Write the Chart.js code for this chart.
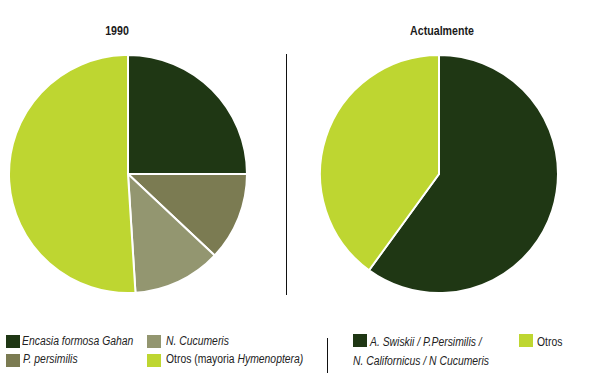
<!DOCTYPE html>
<html>
<head>
<meta charset="utf-8">
<script src="https://cdn.jsdelivr.net/npm/chart.js@4/dist/chart.umd.min.js"></script>
<style>
  html, body { margin: 0; padding: 0; background: #ffffff; }
  #wrap { position: relative; width: 600px; height: 389px; overflow: hidden; background: #fff;
          font-family: "Liberation Sans", Arial, sans-serif; color: #1a1a1a; }
  .cv { position: absolute; width: 240px; height: 240px; }
  .title { position: absolute; font-weight: bold; font-size: 12.5px; line-height: 14px; white-space: nowrap;
           transform: translateX(-50%) scaleX(0.85); }
  .vline { position: absolute; width: 1px; background: #111; }
  .sw { position: absolute; width: 14px; height: 13px; }
  .lt { position: absolute; font-size: 12.5px; line-height: 14px; white-space: nowrap;
        transform: scaleX(0.83); transform-origin: 0 50%; color: #222; }
  i { font-style: italic; }
</style>
</head>
<body>
<div id="wrap">
  <div class="title" style="left:117px; top:24px;">1990</div>
  <div class="title" style="left:441.5px; top:24px;">Actualmente</div>
  <div class="cv" style="left:8px; top:54px;"><canvas id="c1" width="240" height="240"></canvas></div>
  <div class="cv" style="left:319px; top:54px;"><canvas id="c2" width="240" height="240"></canvas></div>
  <div class="vline" style="left:286px; top:54px; height:241px;"></div>
  <div class="vline" style="left:327px; top:338px; height:35px;"></div>
  <div id="legend"></div>
</div>
<script>
// ---- data ----
const categories1990 = ['Encasia formosa Gahan', 'P. persimilis', 'N. Cucumeris', 'Otros (mayoria Hymenoptera)'];
const values1990 = [25, 12, 12, 51];
const colors1990 = ['#1f3714', '#7b7b52', '#939670', '#bed631'];

const categoriesNow = ['A. Swiskii / P.Persimilis / N. Californicus / N Cucumeris', 'Otros'];
const valuesNow = [60, 40];
const colorsNow = ['#1f3714', '#bed631'];

// legend label lines (mixed italics as in the original)
const legend1990Lines = [
  ['<i>Encasia formosa Gahan</i>'],
  ['<i>P. persimilis</i>'],
  ['<i>N. Cucumeris</i>'],
  ['Otros (mayoria <i>Hymenoptera)</i>']
];
const legendNowLines = [
  ['<i>A. Swiskii / P.Persimilis /</i>', '<i>N. Californicus / N Cucumeris</i>'],
  ['Otros']
];

function makePie(id, labels, values, colors) {
  new Chart(document.getElementById(id), {
    type: 'pie',
    data: {
      labels: labels,
      datasets: [{
        data: values,
        backgroundColor: colors,
        borderColor: '#ffffff',
        borderWidth: 2
      }]
    },
    options: {
      responsive: false,
      animation: false,
      layout: { padding: 0 },
      plugins: { legend: { display: false }, tooltip: { enabled: false }, title: { display: false } }
    }
  });
}
makePie('c1', categories1990, values1990, colors1990);
makePie('c2', categoriesNow, valuesNow, colorsNow);

// ---- legend (HTML, real text) ----
// slot: [swatchX, swatchY, textX, textTop, line2X, line2Top]
const legendSlots1990 = [[6, 334.5, 22, 334.4], [6, 353.5, 23, 352], [147, 334.5, 165.5, 334.4], [147, 353.5, 165.5, 352]];
const legendSlotsNow = [[353, 333.5, 370, 335.4, 353, 354.4], [519, 333.5, 537, 334.8]];
const lg = document.getElementById('legend');
function addItems(lines, colors, slots) {
  lines.forEach((ls, i) => {
    const sl = slots[i];
    const s = document.createElement('div');
    s.className = 'sw';
    s.style.left = sl[0] + 'px'; s.style.top = sl[1] + 'px'; s.style.background = colors[i];
    lg.appendChild(s);
    ls.forEach((h, j) => {
      const t = document.createElement('div');
      t.className = 'lt';
      t.style.left = (j === 0 ? sl[2] : sl[4]) + 'px';
      t.style.top = (j === 0 ? sl[3] : sl[5]) + 'px';
      t.innerHTML = h;
      lg.appendChild(t);
    });
  });
}
addItems(legend1990Lines, colors1990, legendSlots1990);
addItems(legendNowLines, colorsNow, legendSlotsNow);
</script>
</body>
</html>
